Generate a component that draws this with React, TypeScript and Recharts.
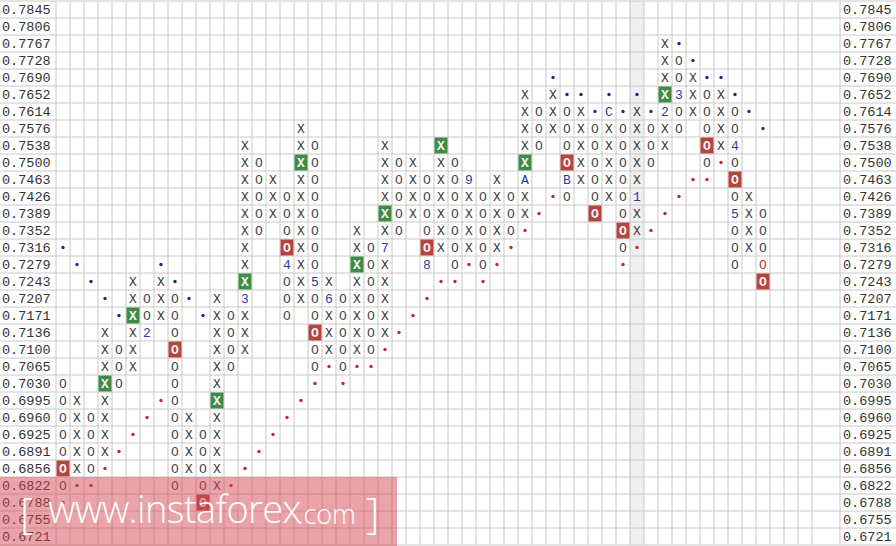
import React from "react";
import { ScatterChart, Scatter, XAxis, YAxis, ReferenceLine, ReferenceArea } from "recharts";

// price levels, top row first
const PRICES = [
  "0.7845", "0.7806", "0.7767", "0.7728", "0.7690", "0.7652", "0.7614", "0.7576",
  "0.7538", "0.7500", "0.7463", "0.7426", "0.7389", "0.7352", "0.7316", "0.7279",
  "0.7243", "0.7207", "0.7171", "0.7136", "0.7100", "0.7065", "0.7030", "0.6995",
  "0.6960", "0.6925", "0.6891", "0.6856", "0.6822", "0.6788", "0.6755", "0.6721",
];

// one entry per column: [kind, top row, bottom row] (row 0 = 0.7845)
const COLUMNS: [string, number, number][] = [
  ["O", 22, 28], ["X", 23, 27], ["O", 24, 27], ["X", 19, 26], ["O", 20, 22],
  ["X", 16, 21], ["O", 17, 19], ["X", 16, 18], ["O", 17, 28], ["X", 24, 27],
  ["O", 25, 29], ["X", 17, 28], ["O", 18, 21], ["X", 8, 20], ["O", 9, 13],
  ["X", 10, 12], ["O", 11, 18], ["X", 7, 17], ["O", 8, 21], ["X", 16, 20],
  ["O", 17, 21], ["X", 13, 20], ["O", 14, 20], ["X", 8, 19], ["O", 9, 13],
  ["X", 9, 12], ["O", 10, 15], ["X", 8, 14], ["O", 9, 15], ["X", 10, 14],
  ["O", 11, 15], ["X", 10, 14], ["O", 11, 13], ["X", 5, 12], ["O", 6, 8],
  ["X", 5, 7], ["O", 6, 11], ["X", 6, 10], ["O", 7, 12], ["X", 6, 11],
  ["O", 7, 14], ["X", 6, 13], ["O", 7, 9], ["X", 2, 8], ["O", 3, 7],
  ["X", 4, 6], ["O", 5, 9], ["X", 5, 8], ["O", 6, 15], ["X", 11, 14],
  ["O", 12, 16],
];

// [column, row]
const GREEN_X: [number, number][] = [
  [3, 22], [5, 18], [11, 23], [13, 16], [17, 9], [21, 15], [23, 12], [27, 8], [33, 9], [43, 5],
];
const RED_O: [number, number][] = [
  [0, 27], [8, 20], [10, 29], [16, 14], [18, 19], [26, 14], [36, 9], [38, 12], [40, 13],
  [46, 8], [48, 10], [50, 16],
];
const LAST_O: [number, number][] = [[50, 15]];

// month markers [column, row, label]
const MONTHS: [number, number, string][] = [
  [6, 19, "2"], [13, 17, "3"], [16, 15, "4"], [18, 16, "5"], [19, 17, "6"], [23, 14, "7"],
  [26, 15, "8"], [29, 10, "9"], [33, 10, "A"], [36, 10, "B"], [39, 6, "C"], [41, 11, "1"],
  [43, 6, "2"], [44, 5, "3"], [48, 8, "4"], [48, 12, "5"],
];

const BLUE_DOTS: [number, number][] = [
  [0, 14], [1, 15], [2, 16], [3, 17], [4, 18], [7, 15], [8, 16], [9, 17], [10, 18],
  [35, 4], [36, 5], [37, 5], [38, 6], [39, 5], [40, 6], [41, 5], [42, 6],
  [44, 2], [45, 3], [46, 4], [47, 4], [48, 5], [49, 6], [50, 7],
];
const RED_DOTS: [number, number][] = [
  [0, 29], [1, 28], [2, 28], [3, 27], [4, 26], [5, 25], [6, 24], [7, 23],
  [12, 28], [13, 27], [14, 26], [15, 25], [16, 24], [17, 23], [18, 22], [19, 21],
  [20, 22], [21, 21], [22, 21], [23, 20], [24, 19], [25, 18], [26, 17], [27, 16],
  [28, 16], [29, 15], [30, 16], [31, 15], [32, 14], [33, 13], [34, 12], [35, 11],
  [40, 15], [41, 14], [42, 13], [43, 12], [44, 11], [45, 10], [46, 10], [47, 9],
];

const SHADED_COL = 41;
const MONO = "'Courier New', 'Liberation Mono', monospace";

const key = (c: number, r: number) => c + ":" + r;
const inList = (list: [number, number][]) => new Set(list.map(([c, r]) => key(c, r)));

const greenSet = inList(GREEN_X);
const redSet = inList(RED_O);
const lastSet = inList(LAST_O);
const monthMap = new Map(MONTHS.map(([c, r, l]) => [key(c, r), l]));

const plainX: any[] = [];
const plainO: any[] = [];
const greenCells: any[] = [];
const redCells: any[] = [];
const lastCells: any[] = [];
const monthCells: any[] = [];

COLUMNS.forEach(([kind, top, bottom], c) => {
  for (let r = top; r <= bottom; r++) {
    const k = key(c, r);
    if (monthMap.has(k)) monthCells.push({ c, r, label: monthMap.get(k) });
    else if (greenSet.has(k)) greenCells.push({ c, r });
    else if (redSet.has(k)) redCells.push({ c, r });
    else if (lastSet.has(k)) lastCells.push({ c, r });
    else if (kind === "X") plainX.push({ c, r });
    else plainO.push({ c, r });
  }
});

const toPts = (list: [number, number][]) => list.map(([c, r]) => ({ c, r }));

const glyph = (ch: string, color: string) => (p: any) => (
  <text x={p.cx} y={p.cy + 1} textAnchor="middle" dominantBaseline="central"
    fontFamily={MONO} fontSize={13} fill={color}>{ch}</text>
);

const boxed = (ch: string, bg: string) => (p: any) => (
  <g>
    <rect x={p.cx - 6.5} y={p.cy - 8} width={13} height={16} fill={bg} />
    <text x={p.cx} y={p.cy + 1} textAnchor="middle" dominantBaseline="central"
      fontFamily={MONO} fontSize={13} fontWeight="bold" fill="#f4f4f4">{ch}</text>
  </g>
);

const monthShape = (p: any) => (
  <text x={p.cx} y={p.cy + 1} textAnchor="middle" dominantBaseline="central"
    fontFamily={MONO} fontSize={13} fill="#2a3aa8">{p.payload.label}</text>
);

const dot = (color: string) => (p: any) => <circle cx={p.cx} cy={p.cy} r={1.7} fill={color} />;

const LeftTick = (p: any) => (
  <text x={2} y={p.y + 1} dominantBaseline="central" fontFamily={MONO} fontSize={13.5} fill="#333">
    {PRICES[p.payload.value]}
  </text>
);
const RightTick = (p: any) => (
  <text x={843} y={p.y + 1} dominantBaseline="central" fontFamily={MONO} fontSize={13.5} fill="#333">
    {PRICES[p.payload.value]}
  </text>
);

const vLines: number[] = [];
for (let c = 0; c <= 54; c++) vLines.push(c - 0.5);
vLines.push(55.5);
const hLines: number[] = [];
for (let r = 0; r <= PRICES.length; r++) hLines.push(r - 0.5);

export default function App() {
  return (
    <div style={{ position: "absolute", left: 0, top: 0, width: 896, height: 546, background: "#fff" }}>
      <ScatterChart width={896} height={546} margin={{ top: 1, right: 0, bottom: 1, left: 0 }}>
        <XAxis type="number" dataKey="c" domain={[-4.5, 59.5]} allowDataOverflow hide />
        <YAxis yAxisId="left" type="number" dataKey="r" domain={[-0.5, 31.5]} reversed allowDataOverflow
          mirror orientation="left" ticks={PRICES.map((_, i) => i)} interval={0}
          axisLine={false} tickLine={false} tick={<LeftTick />} />
        <YAxis yAxisId="right" type="number" dataKey="r" domain={[-0.5, 31.5]} reversed allowDataOverflow
          mirror orientation="right" ticks={PRICES.map((_, i) => i)} interval={0}
          axisLine={false} tickLine={false} tick={<RightTick />} />
        <ReferenceArea yAxisId="left" x1={SHADED_COL - 0.5} x2={SHADED_COL + 0.5} y1={-0.5} y2={31.5}
          fill="#efefef" fillOpacity={1} stroke="none" />
        {vLines.map((v) => (
          <ReferenceLine key={"v" + v} yAxisId="left" x={v} stroke="#c8c8c8" strokeWidth={1} />
        ))}
        {hLines.map((v) => (
          <ReferenceLine key={"h" + v} yAxisId="left" y={v} stroke="#c8c8c8" strokeWidth={1} />
        ))}
        <Scatter yAxisId="left" data={toPts(BLUE_DOTS)} shape={dot("#1c2a8c")} isAnimationActive={false} />
        <Scatter yAxisId="left" data={toPts(RED_DOTS)} shape={dot("#c42a2a")} isAnimationActive={false} />
        <Scatter yAxisId="left" data={plainX} shape={glyph("X", "#3a3a3a")} isAnimationActive={false} />
        <Scatter yAxisId="left" data={plainO} shape={glyph("O", "#4a4a4a")} isAnimationActive={false} />
        <Scatter yAxisId="left" data={greenCells} shape={boxed("X", "#3f8a45")} isAnimationActive={false} />
        <Scatter yAxisId="left" data={redCells} shape={boxed("O", "#b5443f")} isAnimationActive={false} />
        <Scatter yAxisId="left" data={lastCells} shape={glyph("O", "#c0392b")} isAnimationActive={false} />
        <Scatter yAxisId="left" data={monthCells} shape={monthShape} isAnimationActive={false} />
      </ScatterChart>
      <div style={{
        position: "absolute", left: 0, top: 477, width: 397, height: 69,
        background: "rgba(214, 72, 84, 0.5)", color: "#fff",
        fontFamily: "'Open Sans', 'Noto Sans', sans-serif", fontWeight: 300, whiteSpace: "nowrap",
      }}>
        <span style={{ position: "absolute", left: 20, top: 6, fontSize: 42 }}>[</span>
        <span style={{ position: "absolute", left: 48, top: 5, fontSize: 38, letterSpacing: -0.6 }}>www.instaforex</span>
        <span style={{ position: "absolute", left: 297, top: 18, fontSize: 27 }}>.com</span>
        <span style={{ position: "absolute", left: 366, top: 6, fontSize: 42 }}>]</span>
      </div>
    </div>
  );
}
